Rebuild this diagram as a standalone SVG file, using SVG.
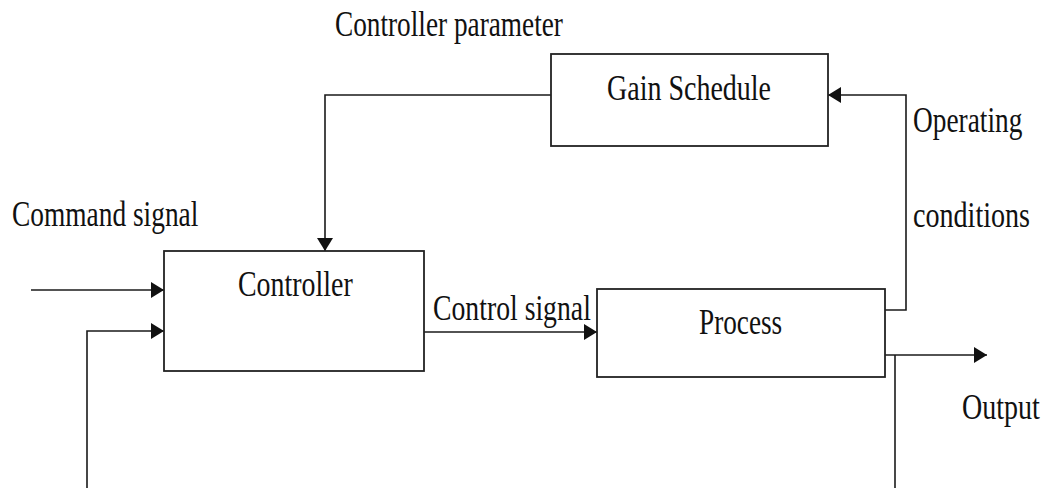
<svg xmlns="http://www.w3.org/2000/svg" width="1050" height="488" viewBox="0 0 1050 488">
  <style>
    .box { fill: #ffffff; stroke: #222222; stroke-width: 1.8; }
    .wire { fill: none; stroke: #1a1a1a; stroke-width: 1.6; }
    .lbl { font-family: "Liberation Serif", "Times New Roman", serif; font-size: 36px; fill: #111111; }
  </style>
  <defs>
    <marker id="arrow" viewBox="0 0 13 16" refX="13" refY="8" markerWidth="13" markerHeight="16" markerUnits="userSpaceOnUse" orient="auto">
      <path d="M0,0 L13,8 L0,16 Z" fill="#111111"/>
    </marker>
  </defs>

  <rect width="1050" height="488" fill="#ffffff"/>

  <!-- signal paths -->
  <g id="connectors">
    <!-- command input -->
    <path class="wire" d="M31,290 H164" marker-end="url(#arrow)"/>
    <!-- feedback into controller -->
    <path class="wire" d="M87,488 V331 H164" marker-end="url(#arrow)"/>
    <!-- gain schedule to controller -->
    <path class="wire" d="M551,95 H325 V251" marker-end="url(#arrow)"/>
    <!-- control signal -->
    <path class="wire" d="M424,332 H597" marker-end="url(#arrow)"/>
    <!-- operating conditions back to gain schedule -->
    <path class="wire" d="M885,310 H906 V95 H828" marker-end="url(#arrow)"/>
    <!-- output -->
    <path class="wire" d="M885,355 H987" marker-end="url(#arrow)"/>
    <!-- output feedback drop -->
    <path class="wire" d="M895,355 V488"/>
  </g>

  <!-- labels use a condensed serif: 0.77 horizontal scale -->
  <g id="gain-schedule">
    <rect class="box" x="551" y="54" width="277" height="92"/>
    <text class="lbl" transform="matrix(0.77,0,0,1,607,100)" textLength="213" lengthAdjust="spacingAndGlyphs">Gain Schedule</text>
  </g>

  <g id="controller">
    <rect class="box" x="164" y="251" width="260" height="120"/>
    <text class="lbl" transform="matrix(0.77,0,0,1,238,296)" textLength="149" lengthAdjust="spacingAndGlyphs">Controller</text>
  </g>

  <g id="process">
    <rect class="box" x="597" y="289" width="288" height="88"/>
    <text class="lbl" transform="matrix(0.77,0,0,1,699,334)" textLength="108" lengthAdjust="spacingAndGlyphs">Process</text>
  </g>

  <!-- signal labels -->
  <g id="labels">
    <text class="lbl" transform="matrix(0.77,0,0,1,335,36)" textLength="296" lengthAdjust="spacingAndGlyphs">Controller parameter</text>
    <text class="lbl" transform="matrix(0.77,0,0,1,12,226)" textLength="242" lengthAdjust="spacingAndGlyphs">Command signal</text>
    <text class="lbl" transform="matrix(0.77,0,0,1,433,320)" textLength="205" lengthAdjust="spacingAndGlyphs">Control signal</text>
    <text class="lbl" transform="matrix(0.77,0,0,1,913,132)" textLength="142" lengthAdjust="spacingAndGlyphs">Operating</text>
    <text class="lbl" transform="matrix(0.77,0,0,1,913,227)" textLength="152" lengthAdjust="spacingAndGlyphs">conditions</text>
    <text class="lbl" transform="matrix(0.77,0,0,1,962,419)" textLength="101" lengthAdjust="spacingAndGlyphs">Output</text>
  </g>
</svg>
